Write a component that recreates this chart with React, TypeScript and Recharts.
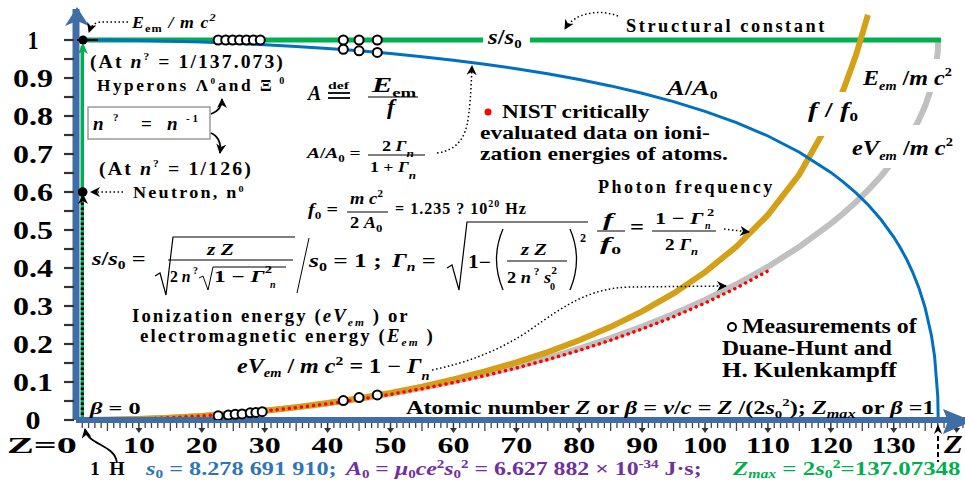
import React, { useLayoutEffect, useRef, useState } from 'react';
import { ComposedChart, Line, XAxis, YAxis, ReferenceLine, ReferenceDot } from 'recharts';

const SERIF = '"Liberation Serif", "Times New Roman", Times, serif';

// ---------------- data ----------------
const curveZ = [1, 5, 10, 15, 20, 25, 30, 35, 40, 45, 50, 55, 60, 65, 70, 75, 80, 85, 90, 95, 100, 105, 110, 115, 120, 122, 124, 126, 128, 130, 131, 132, 133, 134, 135, 136, 136.5, 137, 137.07];
const aOverA0 = [1.0, 0.9997, 0.9987, 0.997, 0.9946, 0.9915, 0.9877, 0.9831, 0.9778, 0.9715, 0.9643, 0.9561, 0.9469, 0.9364, 0.9246, 0.9113, 0.8963, 0.8792, 0.8599, 0.8378, 0.8123, 0.7826, 0.7474, 0.7048, 0.6516, 0.6262, 0.5976, 0.565, 0.5269, 0.4814, 0.4547, 0.4245, 0.3895, 0.3477, 0.2951, 0.2217, 0.1669, 0.0616, 0];
const eVOverMc2 = [0.0, 0.0007, 0.0027, 0.006, 0.0107, 0.0168, 0.0242, 0.0332, 0.0435, 0.0554, 0.0689, 0.084, 0.1009, 0.1196, 0.1402, 0.163, 0.188, 0.2155, 0.2458, 0.2791, 0.3161, 0.3572, 0.4034, 0.4559, 0.5167, 0.5442, 0.5738, 0.6063, 0.6423, 0.683, 0.7057, 0.7306, 0.7581, 0.7896, 0.8269, 0.8753, 0.909, 0.9682, 1.0];
const goldZ = [1, 5, 10, 15, 20, 25, 30, 35, 40, 45, 50, 55, 60, 65, 70, 75, 80, 85, 90, 95, 100, 105, 110, 115, 120, 122, 124, 125.9];
const fOverF0 = [0.0, 0.0007, 0.0027, 0.006, 0.0108, 0.0169, 0.0245, 0.0337, 0.0445, 0.0571, 0.0715, 0.0879, 0.1066, 0.1277, 0.1517, 0.1788, 0.2098, 0.2451, 0.2858, 0.3332, 0.3891, 0.4565, 0.5397, 0.6468, 0.793, 0.869, 0.9602, 1.066];
const nistZ = [1, 5, 10, 15, 20, 25, 30, 35, 40, 45, 50, 55, 60, 65, 70, 75, 80, 85, 90, 95, 100, 105, 110];
const nistE = [0.0, 0.0007, 0.0027, 0.006, 0.0106, 0.0165, 0.0238, 0.0325, 0.0426, 0.0542, 0.0674, 0.0822, 0.0986, 0.1168, 0.1369, 0.159, 0.1834, 0.2101, 0.2395, 0.2719, 0.3077, 0.3476, 0.3923];
const sZ = [1, 137.5];
const sOverS0 = [1, 1];
const dhLowZ = [22.6, 24.2, 25.3, 26.4, 27.7, 28.6, 29.6];
const dhLowV = [0.011, 0.013, 0.015, 0.016, 0.019, 0.02, 0.022];
const dhMidZ = [42.5, 45, 47.9];
const dhMidV = [0.051, 0.059, 0.066];
const dhTopZ = [22.6, 23.8, 24.9, 26.0, 27.1, 28.2, 29.3, 42.5, 45, 47.9];
const dhTopV = [1, 1, 1, 1, 1, 1, 1, 1, 1, 1];
const dhBlueZ = [42.5, 45, 47.9];
const dhBlueV = [0.9754, 0.9715, 0.9673];

const xTicks = Array.from({ length: 142 }, (_, i) => i);
const xMajor = [10, 20, 30, 40, 50, 60, 70, 80, 90, 100, 110, 120, 130];
const yTicks = [0, 0.05, 0.1, 0.15, 0.2, 0.25, 0.3, 0.35, 0.4, 0.45, 0.5, 0.55, 0.6, 0.65, 0.7, 0.75, 0.8, 0.85, 0.9, 0.95, 1];

const pts = (zs: number[], vs: number[]) => zs.map((z, i) => ({ z, v: vs[i] }));

// ---------------- layout / style ----------------
const AXIS = '#3F6DA8';

function FT(props: any) {
  const { x, y, w, size = 18, anchor = 'start', weight = 'bold', italic = false, fill = '#000', ls = 0, children } = props;
  const ref = useRef<SVGTextElement>(null);
  const [s, setS] = useState(1);
  useLayoutEffect(() => {
    const el = ref.current;
    if (el && w) {
      const bw = el.getBBox().width;
      if (bw > 0) setS(w / bw);
    }
  }, [w]);
  return (
    <text
      ref={ref}
      transform={`translate(${x} ${y}) scale(${s} 1)`}
      x={0}
      y={0}
      fontFamily={SERIF}
      fontSize={size}
      fontWeight={weight}
      fontStyle={italic ? 'italic' : 'normal'}
      fill={fill}
      textAnchor={anchor}
      letterSpacing={ls}
    >
      {children}
    </text>
  );
}

const XTick = (props: any) => {
  const { x, y, payload } = props;
  const v = payload?.value ?? 0;
  if (v === 0) return <g />;
  if (v % 10 === 0) {
    const labelled = xMajor.includes(v);
    const lw = v >= 100 ? 44 : 32;
    return (
      <g>
        <line x1={x} y1={y + 3} x2={x} y2={y + 9} stroke="#333" strokeWidth={1.5} />
        <polygon points={`${x - 3.5},${y + 8} ${x + 3.5},${y + 8} ${x},${y + 13}`} fill="#333" />
        {labelled && <FT x={x} y={y + 33} w={lw} size={23} anchor="middle">{String(v)}</FT>}
      </g>
    );
  }
  const len = v % 5 === 0 ? 8 : 5;
  return <line x1={x} y1={y + 3} x2={x} y2={y + 3 + len} stroke="#444" strokeWidth={1.3} />;
};

const YTick = (props: any) => {
  const { x, y, payload } = props;
  const v = payload?.value ?? 0;
  const k = Math.round(v * 100);
  const major = k % 10 === 0;
  const label = k === 100 ? '1' : k === 0 ? '0' : (k / 100).toFixed(1);
  const w = k === 100 ? 11 : k === 0 ? 15 : 40;
  return (
    <g>
      <line x1={x - 12} y1={y} x2={x - 2} y2={y} stroke="#333" strokeWidth={2.2} />
      {major && (
        <FT x={33} y={y + 9} w={w} size={26} anchor="middle">{label}</FT>
      )}
    </g>
  );
};

const Sub = (p: any) => <tspan dy={p.d ?? 4} fontSize={p.fs ?? 12} fontStyle={p.it ? 'italic' : 'normal'}>{p.children}</tspan>;

function Overlay() {
  const dot = { stroke: '#000', strokeWidth: 1.5, strokeDasharray: '1.5 2.5', fill: 'none' };
  return (
    <svg width={965} height={482} style={{ position: 'absolute', left: 0, top: 0, pointerEvents: 'none' }}>
      <defs>
        <marker id="ah" viewBox="0 0 10 10" refX="9" refY="5" markerWidth="10" markerHeight="10" markerUnits="userSpaceOnUse" orient="auto">
          <path d="M0,0 L10,5 L0,10 L3,5 z" fill="#000" />
        </marker>
      </defs>

      {/* axis arrowheads */}
      <polygon points="77,7 65,26 77,21 89,26" fill={AXIS} />
      <polygon points="972,421 943,409 948,421 943,434" fill={AXIS} />

      {/* green arrow at top of the Z=1 line, neutron arrow */}
      <polygon points="83,43 78,54 83,51 88,54" fill="#00B050" />
      <polygon points="83,194 78,204 83,201 88,204" fill="#000" />
      <line x1={77} y1={40} x2={98} y2={40} stroke="#000" strokeWidth={2} />
      <circle cx={83} cy={40} r={4.5} fill="#000" />

      {/* white label backgrounds */}
      <rect x={483} y={25} width={47} height={24} fill="#fff" />
      <rect x={797} y={92} width={82} height={44} fill="#fff" />
      <rect x={858} y={59} width={104} height={33} fill="#fff" />
      <rect x={845} y={125} width={117} height={43} fill="#fff" />

      {/* top-left */}
      <path d="M128,22 L100,22 Q92,23 89,32" {...dot} markerEnd="url(#ah)" />
      <FT x={132} y={28} w={86} size={16} italic ls={1}>E<Sub fs={11}>em</Sub><tspan dy={-4}>  / m c</tspan><tspan dy={-7} fontSize={11}>2</tspan></FT>
      <FT x={90} y={68} w={195} size={19} ls={2}>(At <tspan fontStyle="italic">n</tspan><tspan dy={-8} fontSize={11}>?</tspan><tspan dy={8}> = 1/137.073)</tspan></FT>
      <FT x={97} y={91} w={190} size={17} ls={2.5}>Hyperons Λ<tspan dy={-7} fontSize={9}>0</tspan><tspan dy={7}>and Ξ</tspan><tspan dy={-7} fontSize={10}> 0</tspan></FT>
      <rect x={88} y={107} width={122} height={32} fill="#fff" stroke="#9a9a9a" strokeWidth={1.5} />
      <text x={93} y={130} fontFamily={SERIF} fontSize={19} fontWeight="bold" fontStyle="italic">n</text>
      <text x={113} y={121} fontFamily={SERIF} fontSize={11} fontWeight="bold">?</text>
      <text x={141} y={130} fontFamily={SERIF} fontSize={19} fontWeight="bold">=</text>
      <text x={167} y={130} fontFamily={SERIF} fontSize={19} fontWeight="bold" fontStyle="italic">n</text>
      <text x={186} y={122} fontFamily={SERIF} fontSize={11} fontWeight="bold">- 1</text>
      <path d="M211,114 Q222,110 222,99" fill="none" stroke="#000" strokeWidth={1.8} markerEnd="url(#ah)" />
      <path d="M211,133 Q222,138 220,153" fill="none" stroke="#000" strokeWidth={1.8} markerEnd="url(#ah)" />
      <FT x={99} y={175} w={154} size={19} ls={2}>(At <tspan fontStyle="italic">n</tspan><tspan dy={-8} fontSize={11}>?</tspan><tspan dy={8}> = 1/126)</tspan></FT>
      <FT x={133} y={198} w={113} size={16} ls={2}>Neutron, n<tspan dy={-6} fontSize={9}>0</tspan></FT>
      <circle cx={83} cy={192} r={4.5} fill="#000" />
      <path d="M123,192 L91,192" {...dot} markerEnd="url(#ah)" />

      {/* s/s0 formula */}
      <FT x={92} y={265} w={55} size={19}><tspan fontStyle="italic">s</tspan>/<tspan fontStyle="italic">s</tspan><Sub>0</Sub><tspan dy={-4}>  =</tspan></FT>
      <path d="M155,276 L160,273 L166,295 L173,237 L295,237" fill="none" stroke="#000" strokeWidth={1.2} />
      <FT x={207} y={255} w={28} size={17} italic>z Z</FT>
      <line x1={168} y1={260} x2={293} y2={260} stroke="#000" strokeWidth={1} />
      <FT x={170} y={282} w={28} size={16}>2 <tspan fontStyle="italic">n</tspan><tspan dy={-8} fontSize={10}> ?</tspan></FT>
      <path d="M199,278 L203,276 L208,290 L213,267 L286,267" fill="none" stroke="#000" strokeWidth={1} />
      <FT x={214} y={282} w={58} size={16}>1 − <tspan fontStyle="italic">Γ</tspan><tspan dy={-9} fontSize={10}>2</tspan></FT>
      <text x={270} y={288} fontFamily={SERIF} fontSize={10} fontWeight="bold" fontStyle="italic">n</text>
      <path d="M297,293 L309,238" stroke="#000" strokeWidth={1} />
      <FT x={309} y={267} w={74} size={19}><tspan fontStyle="italic">s</tspan><Sub>0</Sub><tspan dy={-4}> = 1 ;</tspan></FT>
      <FT x={392} y={267} w={45} size={19}><tspan fontStyle="italic">Γ</tspan><Sub it>n</Sub><tspan dy={-4}>  =</tspan></FT>
      <path d="M447,268 L452,265 L459,290 L467,222 L588,222" fill="none" stroke="#000" strokeWidth={1.2} />
      <FT x={468} y={268} w={23} size={18}>1−</FT>
      <path d="M503,229 Q490,259 503,290" fill="none" stroke="#000" strokeWidth={1.3} />
      <path d="M570,229 Q583,259 570,290" fill="none" stroke="#000" strokeWidth={1.3} />
      <FT x={521} y={255} w={27} size={17} italic>z Z</FT>
      <line x1={507} y1={261} x2={567} y2={261} stroke="#000" strokeWidth={1} />
      <FT x={507} y={283} w={50} size={16}>2 <tspan fontStyle="italic">n</tspan><tspan dy={-8} fontSize={10}> ?</tspan><tspan dy={8} fontStyle="italic">  s</tspan><tspan dy={-9} fontSize={10}>2</tspan></FT>
      <text x={550} y={290} fontFamily={SERIF} fontSize={10} fontWeight="bold">0</text>
      <text x={580} y={242} fontFamily={SERIF} fontSize={12} fontWeight="bold">2</text>

      {/* f0 */}
      <FT x={308} y={215} w={30} size={17}><tspan fontStyle="italic">f</tspan><Sub fs={11}>0</Sub><tspan dy={-4}> =</tspan></FT>
      <FT x={350} y={204} w={33} size={16}><tspan fontStyle="italic">m c</tspan><tspan dy={-7} fontSize={10}>2</tspan></FT>
      <line x1={347} y1={212} x2={388} y2={212} stroke="#000" strokeWidth={1} />
      <FT x={350} y={228} w={33} size={16}>2 <tspan fontStyle="italic">A</tspan><Sub fs={11}>0</Sub></FT>
      <FT x={395} y={214} w={132} size={16} ls={1}>= 1.235 ? 10<tspan dy={-7} fontSize={10}>20</tspan><tspan dy={7}> Hz</tspan></FT>

      {/* photon frequency */}
      <FT x={598} y={193} w={177} size={18} ls={2.5}>Photon frequency</FT>
      <FT x={603} y={226} w={13} size={19} italic>f</FT>
      <line x1={597} y1={231} x2={625} y2={231} stroke="#000" strokeWidth={1} />
      <FT x={600} y={250} w={22} size={19}><tspan fontStyle="italic">f</tspan><Sub fs={11}>0</Sub></FT>
      <FT x={630} y={234} w={14} size={20}>=</FT>
      <FT x={655} y={224} w={60} size={17}>1 − <tspan fontStyle="italic">Γ</tspan><tspan dy={-8} fontSize={11}> 2</tspan></FT>
      <text x={705} y={229} fontFamily={SERIF} fontSize={10} fontWeight="bold" fontStyle="italic">n</text>
      <line x1={652} y1={231} x2={716} y2={231} stroke="#000" strokeWidth={1} />
      <FT x={665} y={250} w={33} size={17}>2 <tspan fontStyle="italic">Γ</tspan><Sub it fs={11} d={5}>n</Sub></FT>
      <path d="M724,229 L749,232" {...dot} markerEnd="url(#ah)" />

      {/* A def */}
      <FT x={308} y={100} w={15} size={22} italic>A</FT>
      <FT x={328} y={89} w={22} size={10}>def</FT>
      <line x1={328} y1={93} x2={350} y2={93} stroke="#000" strokeWidth={1.8} />
      <line x1={328} y1={98} x2={350} y2={98} stroke="#000" strokeWidth={1.8} />
      <FT x={372} y={92} w={46} size={21} italic>E<Sub fs={13} d={5}>em</Sub></FT>
      <line x1={368} y1={97} x2={418} y2={97} stroke="#000" strokeWidth={1} />
      <FT x={387} y={114} w={10} size={21} italic>f</FT>

      {/* A/A0 formula */}
      <FT x={307} y={158} w={55} size={15}><tspan fontStyle="italic">A</tspan>/<tspan fontStyle="italic">A</tspan><Sub fs={10}>0</Sub><tspan dy={-4}>  =</tspan></FT>
      <FT x={382} y={151} w={32} size={15}>2 <tspan fontStyle="italic">Γ</tspan><Sub it fs={11} d={6}>n</Sub></FT>
      <line x1={368} y1={155} x2={425} y2={155} stroke="#000" strokeWidth={1} />
      <FT x={370} y={172} w={46} size={15}>1 + <tspan fontStyle="italic">Γ</tspan><Sub it fs={11} d={7}>n</Sub></FT>
      <path d="M437,153 C452,151 463,143 467,125 C470,110 471,90 472,66" {...dot} markerEnd="url(#ah)" />

      {/* NIST */}
      <circle cx={488} cy={112} r={3.5} fill="#FF0000" />
      <FT x={502} y={118} w={148} size={19}>NIST critically</FT>
      <FT x={480} y={139} w={230} size={19}>evaluated data on ioni-</FT>
      <FT x={480} y={160} w={248} size={19}>zation energies of atoms.</FT>

      {/* curve labels */}
      <FT x={667} y={95} w={53} size={22} italic>A<tspan fontStyle="normal">/</tspan>A<Sub fs={13} d={4}>0</Sub></FT>
      <FT x={808} y={117} w={50} size={22} italic>f <tspan fontStyle="normal">/</tspan> f<Sub fs={13} d={4}>0</Sub></FT>
      <FT x={863} y={85} w={90} size={22} italic>E<Sub fs={13} d={5} it>em</Sub><tspan dy={-5} fontStyle="normal"> /</tspan>m c<tspan dy={-9} fontSize={13} fontStyle="normal">2</tspan></FT>
      <FT x={852} y={155} w={101} size={22} italic>eV<Sub fs={13} d={5} it>em</Sub><tspan dy={-5} fontStyle="normal"> /</tspan>m c<tspan dy={-9} fontSize={13} fontStyle="normal">2</tspan></FT>

      {/* structural constant */}
      <FT x={626} y={32} w={201} size={18} ls={2.5}>Structural constant</FT>
      <path d="M618,16 C600,9 575,12 565,29" {...dot} markerEnd="url(#ah)" />
      <FT x={488} y={44} w={35} size={20} italic>s<tspan fontStyle="normal">/</tspan>s<Sub fs={12} d={4}>0</Sub></FT>

      {/* ionization */}
      <FT x={132} y={322} w={278} size={18} ls={2}>Ionization energy (<tspan fontStyle="italic">eV</tspan><Sub it fs={11}>em</Sub><tspan dy={-4}> ) or</tspan></FT>
      <FT x={140} y={342} w={295} size={18} ls={2}>electromagnetic energy (<tspan fontStyle="italic">E</tspan><Sub it fs={11}>em</Sub><tspan dy={-4}> )</tspan></FT>
      <FT x={237} y={373} w={193} size={20} italic>eV<Sub fs={12} it>em</Sub><tspan dy={-4} fontStyle="normal"> / </tspan>m c<tspan dy={-8} fontStyle="normal" fontSize={13}>2</tspan><tspan dy={8} fontStyle="normal"> = 1 − </tspan>Γ<Sub fs={12} d={7} it>n</Sub></FT>
      <path d="M432,370 C470,362 500,350 530,330 C565,305 590,288 630,287 L726,286" {...dot} markerEnd="url(#ah)" />

      {/* measurements */}
      <circle cx={732} cy={327} r={4} fill="#fff" stroke="#000" strokeWidth={2} />
      <FT x={742} y={333} w={175} size={20}>Measurements of</FT>
      <FT x={722} y={355} w={170} size={20}>Duane-Hunt and</FT>
      <FT x={722} y={377} w={175} size={20}>H. Kulenkampff</FT>

      {/* beta, axis caption */}
      <FT x={90} y={414} w={52} size={17}><tspan fontStyle="italic">β</tspan>  =  0</FT>
      <FT x={406} y={414} w={529} size={18}>Atomic number <tspan fontStyle="italic">Z</tspan> or <tspan fontStyle="italic">β</tspan> = <tspan fontStyle="italic">v</tspan>/<tspan fontStyle="italic">c</tspan> = <tspan fontStyle="italic">Z</tspan> /(2<tspan fontStyle="italic">s</tspan><Sub fs={11}>0</Sub><tspan dy={-12} fontSize={11}>2</tspan><tspan dy={8}>);  </tspan><tspan fontStyle="italic">Z</tspan><Sub it fs={12}>max</Sub><tspan dy={-4}> or </tspan><tspan fontStyle="italic">β</tspan> =1</FT>

      {/* bottom */}
      <FT x={7} y={453} w={70} size={23}>Z=0</FT>
      <FT x={944} y={453} w={20} size={25} italic>Z</FT>
      <path d="M938,436 L938,462" stroke="#000" strokeWidth={2} strokeDasharray="5 3" />
      <polygon points="938,424 934,434 938,431 942,434" fill="#000" />
      <FT x={90} y={475} w={37} size={18} ls={2}>1 H</FT>
      <path d="M117,463 C115,444 88,446 85,429" fill="none" stroke="#000" strokeWidth={1.8} markerEnd="url(#ah)" />
      <FT x={146} y={475} w={192} size={19} fill="#2E75B6"><tspan fontStyle="italic">s</tspan><Sub fs={12} d={3}>0</Sub><tspan dy={-3}> = 8.278 691 910;</tspan></FT>
      <FT x={346} y={475} w={357} size={19} fill="#7030A0"><tspan fontStyle="italic">A</tspan><Sub fs={12} d={3}>0</Sub><tspan dy={-3}> = </tspan><tspan fontStyle="italic">μ</tspan><Sub fs={12} d={3}>0</Sub><tspan dy={-3} fontStyle="italic">ce</tspan><tspan dy={-7} fontSize={12}>2</tspan><tspan dy={7} fontStyle="italic">s</tspan><Sub fs={12} d={3}>0</Sub><tspan dy={-10} fontSize={12}>2</tspan><tspan dy={7}> = 6.627 882 × 10</tspan><tspan dy={-7} fontSize={12}>-34</tspan><tspan dy={7}> J·s;</tspan></FT>
      <FT x={733} y={475} w={229} size={19} fill="#00B050"><tspan fontStyle="italic">Z</tspan><Sub fs={12} d={3} it>max</Sub><tspan dy={-3}> = 2</tspan><tspan fontStyle="italic">s</tspan><Sub fs={12} d={3}>0</Sub><tspan dy={-10} fontSize={12}>2</tspan><tspan dy={7}>=137.07348</tspan></FT>
    </svg>
  );
}

export default function App() {
  const circle = { r: 4.5, fill: '#fff', stroke: '#000', strokeWidth: 2 };
  return (
    <div style={{ position: 'absolute', left: 0, top: 0, width: 965, height: 482, background: '#fff' }}>
      <ComposedChart width={965} height={482} margin={{ top: 9, right: 0, bottom: 0, left: 0 }}>
        <XAxis
          type="number"
          dataKey="z"
          domain={[0, 141.33]}
          allowDataOverflow
          ticks={xTicks}
          interval={0}
          height={62}
          tickSize={0}
          tickMargin={0}
          tickLine={false}
          axisLine={{ stroke: AXIS, strokeWidth: 6 }}
          tick={<XTick />}
        />
        <YAxis
          type="number"
          dataKey="v"
          domain={[0, 1.0816]}
          allowDataOverflow
          ticks={yTicks}
          interval={0}
          width={76}
          tickSize={0}
          tickMargin={0}
          tickLine={false}
          axisLine={{ stroke: AXIS, strokeWidth: 7 }}
          tick={<YTick />}
        />
        <ReferenceLine segment={[{ x: 1, y: 0 }, { x: 1, y: 0.985 }]} stroke="#00B050" strokeWidth={3.5} />
        <ReferenceLine segment={[{ x: 1, y: 0 }, { x: 1, y: 0.585 }]} stroke="#000" strokeWidth={3} strokeDasharray="2.5 2.5" />
        <Line data={pts(curveZ, eVOverMc2)} dataKey="v" stroke="#C0C0C0" strokeWidth={6} dot={false} activeDot={false} isAnimationActive={false} />
        <Line data={pts(sZ, sOverS0)} dataKey="v" stroke="#00B050" strokeWidth={5} dot={false} activeDot={false} isAnimationActive={false} />
        <Line data={pts(goldZ, fOverF0)} dataKey="v" stroke="#D4A017" strokeWidth={6} dot={false} activeDot={false} isAnimationActive={false} />
        <Line data={pts(nistZ, nistE)} dataKey="v" stroke="#FF0000" strokeWidth={3.5} strokeDasharray="0.1 6" strokeLinecap="round" dot={false} activeDot={false} isAnimationActive={false} />
        <Line data={pts(curveZ, aOverA0)} dataKey="v" stroke="#0070C0" strokeWidth={3} dot={false} activeDot={false} isAnimationActive={false} />
        <Line data={pts(dhTopZ, dhTopV)} dataKey="v" stroke="none" dot={circle} activeDot={false} isAnimationActive={false} />
        <Line data={pts(dhBlueZ, dhBlueV)} dataKey="v" stroke="none" dot={circle} activeDot={false} isAnimationActive={false} />
        <Line data={pts(dhLowZ, dhLowV)} dataKey="v" stroke="none" dot={circle} activeDot={false} isAnimationActive={false} />
        <Line data={pts(dhMidZ, dhMidV)} dataKey="v" stroke="none" dot={circle} activeDot={false} isAnimationActive={false} />
        <ReferenceDot x={1} y={0.6} r={4.5} fill="#000" stroke="none" />
      </ComposedChart>
      <Overlay />
    </div>
  );
}
